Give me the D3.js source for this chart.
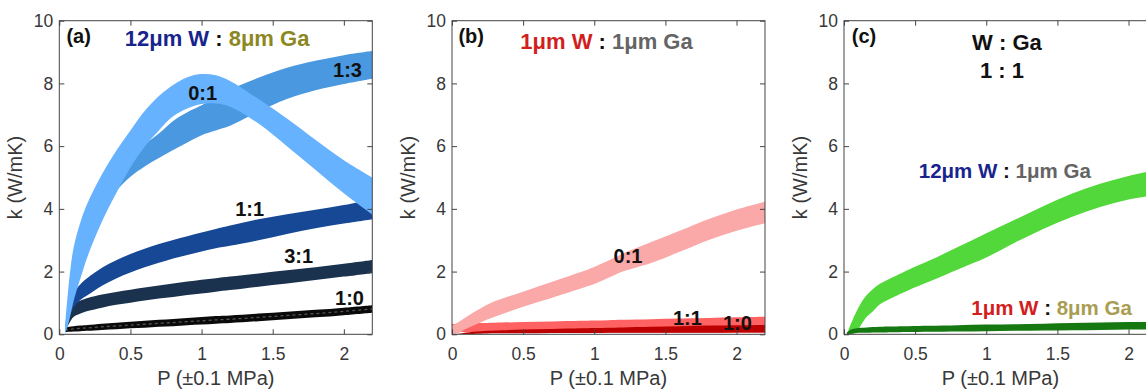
<!DOCTYPE html>
<html><head><meta charset="utf-8">
<script src="https://cdn.jsdelivr.net/npm/d3@7"></script>
<style>
body{margin:0;background:#fff}
svg{display:block}
text{font-family:"Liberation Sans",Arial,Helvetica,sans-serif}
</style>
</head><body>
<svg id="c" width="1146" height="389"></svg>
<script>
// ---------- data ----------
const X_TICKS = [0, 0.5, 1, 1.5, 2];
const Y_TICKS = [0, 2, 4, 6, 8, 10];
const X_DOMAIN = [0, 2.2];
const Y_DOMAIN = [0, 10];

// panel (a) : 12um W : 8um Ga
const P_A    = [0.04,0.07,0.1,0.15,0.2,0.3,0.4,0.5,0.6,0.7,0.8,0.9,1.0,1.1,1.2,1.4,1.6,1.8,2.0,2.2];
const A01_HI = [0.25,1.75,2.75,3.6,4.2,5.1,5.85,6.5,7.12,7.6,7.95,8.2,8.3,8.26,8.08,7.5,6.88,6.2,5.55,5.0];
const A01_LO = [0.0,0.45,1.05,1.8,2.5,3.6,4.5,5.32,5.98,6.5,6.95,7.2,7.34,7.36,7.26,6.72,6.0,5.25,4.5,3.82];
const A13_HI = [0.2,1.2,2.0,2.9,3.5,4.4,5.05,5.6,6.05,6.4,6.8,7.08,7.3,7.55,7.8,8.18,8.5,8.72,8.9,9.03];
const A13_LO = [0.1,0.6,1.25,2.05,2.7,3.7,4.55,5.02,5.35,5.62,5.88,6.12,6.35,6.5,6.65,7.1,7.5,7.78,7.98,8.15];
const A11_HI = [0.2,0.85,1.3,1.6,1.8,2.12,2.36,2.56,2.73,2.88,3.01,3.13,3.25,3.36,3.47,3.67,3.83,3.97,4.12,4.3];
const A11_LO = [0.1,0.5,0.85,1.1,1.25,1.55,1.78,1.97,2.14,2.28,2.42,2.53,2.64,2.74,2.82,3.0,3.2,3.38,3.53,3.67];
const A31_HI = [0.2,0.65,0.95,1.08,1.16,1.27,1.35,1.42,1.49,1.56,1.62,1.68,1.74,1.79,1.84,1.94,2.04,2.14,2.25,2.37];
const A31_LO = [0.1,0.35,0.55,0.66,0.74,0.85,0.94,1.01,1.08,1.14,1.19,1.25,1.3,1.36,1.41,1.52,1.62,1.73,1.84,1.95];
const A10_HI = [0.2,0.24,0.26,0.28,0.3,0.34,0.37,0.4,0.43,0.46,0.49,0.52,0.55,0.58,0.6,0.66,0.72,0.78,0.85,0.93];
const A10_LO = [0.07,0.08,0.09,0.1,0.11,0.14,0.16,0.19,0.21,0.24,0.26,0.29,0.31,0.34,0.36,0.42,0.48,0.54,0.61,0.69];

// panel (b) : 1um W : 1um Ga
const P_B    = [0,0.05,0.1,0.2,0.3,0.5,0.7,0.9,1.0,1.1,1.2,1.4,1.6,1.8,2.0,2.2];
const B01_HI = [0.28,0.4,0.55,0.82,1.05,1.36,1.67,1.98,2.15,2.35,2.57,2.94,3.3,3.67,3.98,4.23];
const B01_LO = [0.0,0.05,0.18,0.38,0.56,0.88,1.16,1.45,1.6,1.8,2.0,2.27,2.63,3.0,3.3,3.54];
const B11_HI = [0.33,0.34,0.35,0.36,0.37,0.39,0.41,0.43,0.44,0.45,0.46,0.48,0.5,0.52,0.54,0.56];
const B11_LO = [0.07,0.07,0.07,0.06,0.06,0.06,0.06,0.05,0.05,0.05,0.05,0.05,0.05,0.05,0.05,0.05];
const B10_HI = [0.0,0.02,0.06,0.1,0.12,0.15,0.17,0.19,0.2,0.21,0.22,0.24,0.26,0.28,0.29,0.3];
const B10_LO = [0.0,0.0,0.01,0.02,0.03,0.03,0.04,0.04,0.04,0.05,0.05,0.05,0.05,0.05,0.06,0.06];

// panel (c) : W : Ga = 1 : 1
const P_C    = [0.02,0.05,0.09,0.12,0.16,0.2,0.25,0.3,0.45,0.6,0.8,1.0,1.2,1.4,1.6,1.8,2.0,2.2];
const C12_HI = [0.0,0.35,0.75,1.0,1.25,1.43,1.6,1.72,2.05,2.35,2.78,3.22,3.65,4.08,4.48,4.8,5.05,5.25];
const C12_LO = [0.0,0.0,0.08,0.3,0.56,0.72,0.95,1.08,1.4,1.68,2.07,2.45,2.92,3.36,3.74,4.06,4.3,4.45];
const C1_HI  = [0.05,0.15,0.19,0.21,0.22,0.23,0.24,0.25,0.26,0.27,0.29,0.31,0.32,0.34,0.36,0.38,0.39,0.4];
const C1_LO  = [0.0,0.02,0.04,0.05,0.05,0.06,0.06,0.06,0.07,0.08,0.09,0.1,0.11,0.12,0.13,0.14,0.15,0.16];

// ---------- drawing ----------
const svg = d3.select('#c');
const LEFTS = [59.3, 452, 844];
const PW = 313, TOP = 20.7, PH = 313.6;
const AXIS_COL = '#444', TICK_TXT = '#383838';
const BLUE = '#18248c', RED = '#d21e1e', GRAY = '#646464', OLIVE = '#8c871e', OLIVE2 = '#a89d52';
const CURVE = d3.curveCatmullRom.alpha(0.5);

function panel(i, bands) {
  const left = LEFTS[i];
  const x = d3.scaleLinear().domain(X_DOMAIN).range([left, left + PW]);
  const y = d3.scaleLinear().domain(Y_DOMAIN).range([TOP + PH, TOP]);
  const clipId = 'clip' + i;
  svg.append('clipPath').attr('id', clipId).append('rect')
    .attr('x', left).attr('y', TOP).attr('width', PW).attr('height', PH);
  const pg = svg.append('g').attr('clip-path', `url(#${clipId})`);
  bands.forEach(b => {
    const data = b.x.map((v, j) => ({x: v, lo: b.lo[j], hi: b.hi[j]}));
    pg.append('path').datum(data).attr('fill', b.color)
      .attr('d', d3.area().x(d => x(d.x)).y0(d => y(d.lo)).y1(d => y(d.hi)).curve(CURVE));
    if (b.dash) {
      pg.append('path').datum(data).attr('fill', 'none').attr('stroke', b.dash)
        .attr('stroke-width', 1.3).attr('stroke-dasharray', '3,3')
        .attr('d', d3.line().x(d => x(d.x)).y(d => y((d.lo + d.hi) / 2)).curve(CURVE));
    }
  });
  // axes
  const gB = svg.append('g').attr('transform', `translate(0,${TOP + PH})`)
    .call(d3.axisBottom(x).tickValues(X_TICKS).tickSize(-5).tickPadding(13).tickFormat(d3.format('')));
  const gT = svg.append('g').attr('transform', `translate(0,${TOP})`)
    .call(d3.axisTop(x).tickValues(X_TICKS).tickSize(-5).tickFormat(''));
  const gL = svg.append('g').attr('transform', `translate(${left},0)`)
    .call(d3.axisLeft(y).tickValues(Y_TICKS).tickSize(-5).tickPadding(6));
  const gR = svg.append('g').attr('transform', `translate(${left + PW},0)`)
    .call(d3.axisRight(y).tickValues(Y_TICKS).tickSize(-5).tickFormat(''));
  [gB, gT, gL, gR].forEach(g => {
    g.select('.domain').remove();
    g.selectAll('line').attr('stroke', AXIS_COL);
    g.selectAll('text').attr('fill', TICK_TXT).style('font-size', '17.5px')
      .style('font-family', '"Liberation Sans",Arial,sans-serif');
  });
  svg.append('rect').attr('x', left).attr('y', TOP).attr('width', PW).attr('height', PH)
    .attr('fill', 'none').attr('stroke', AXIS_COL).attr('stroke-width', 1);
  // axis titles
  svg.append('text').attr('x', left + PW / 2).attr('y', 385).attr('text-anchor', 'middle')
    .attr('fill', TICK_TXT).style('font-size', '20px').text('P (\u00B10.1 MPa)');
  svg.append('text').attr('transform', `translate(${left - 37},${TOP + PH / 2}) rotate(-90)`)
    .attr('text-anchor', 'middle').attr('fill', TICK_TXT).style('font-size', '20px').text('k (W/mK)');
  return {x, y};
}

function label(sc, xv, yv, txt, size, anchor) {
  return svg.append('text').attr('x', sc.x(xv)).attr('y', sc.y(yv))
    .attr('text-anchor', anchor || 'middle').attr('font-weight', 'bold')
    .style('font-size', size + 'px').attr('fill', '#111').text(txt);
}
function rich(sc, xv, yv, parts, size, anchor) {
  const t = svg.append('text').attr('x', sc.x(xv)).attr('y', sc.y(yv))
    .attr('text-anchor', anchor || 'middle').attr('font-weight', 'bold').style('font-size', size + 'px');
  parts.forEach(p => t.append('tspan').attr('fill', p[1]).text(p[0]));
}

// panel (a)
const sa = panel(0, [
  {x: P_A, lo: A10_LO, hi: A10_HI, color: '#0a0a0a', dash: '#555'},
  {x: P_A, lo: A31_LO, hi: A31_HI, color: '#1a324e'},
  {x: P_A, lo: A11_LO, hi: A11_HI, color: '#164896'},
  {x: P_A, lo: A13_LO, hi: A13_HI, color: '#4a98e0'},
  {x: P_A, lo: A01_LO, hi: A01_HI, color: '#66b2ff'}
]);
label(sa, 0.05, 9.3, '(a)', 20, 'start');
rich(sa, 0.46, 9.18, [['12\u03BCm W', BLUE], [' : ', '#111'], ['8\u03BCm Ga', OLIVE]], 22, 'start');
label(sa, 2.026, 8.21, '1:3', 20);
label(sa, 1.008, 7.47, '0:1', 20);
label(sa, 1.338, 3.76, '1:1', 20);
label(sa, 1.682, 2.26, '3:1', 20);
label(sa, 2.04, 0.93, '1:0', 20);

// panel (b)
const sb = panel(1, [
  {x: P_B, lo: B11_LO, hi: B11_HI, color: '#ff6262'},
  {x: P_B, lo: B10_LO, hi: B10_HI, color: '#bc0000'},
  {x: P_B, lo: B01_LO, hi: B01_HI, color: '#faa8a8'}
]);
label(sb, 0.045, 9.3, '(b)', 20, 'start');
rich(sb, 0.48, 9.1, [['1\u03BCm W', RED], [' : ', '#111'], ['1\u03BCm Ga', GRAY]], 22, 'start');
label(sb, 1.237, 2.26, '0:1', 20);
label(sb, 1.655, 0.3, '1:1', 20);
label(sb, 2.006, 0.14, '1:0', 20);

// panel (c)
const scc = panel(2, [
  {x: P_C, lo: C12_LO, hi: C12_HI, color: '#52d83a'},
  {x: P_C, lo: C1_LO, hi: C1_HI, color: '#167810'}
]);
label(scc, 0.055, 9.3, '(c)', 20, 'start');
label(scc, 1.145, 9.06, 'W : Ga', 22);
label(scc, 1.11, 8.17, '1 : 1', 22);
rich(scc, 1.13, 4.98, [['12\u03BCm W', BLUE], [' : ', '#111'], ['1\u03BCm Ga', GRAY]], 20.5);
rich(scc, 1.459, 0.62, [['1\u03BCm W', RED], [' : ', '#111'], ['8\u03BCm Ga', OLIVE2]], 20.5);
</script>
</body></html>
